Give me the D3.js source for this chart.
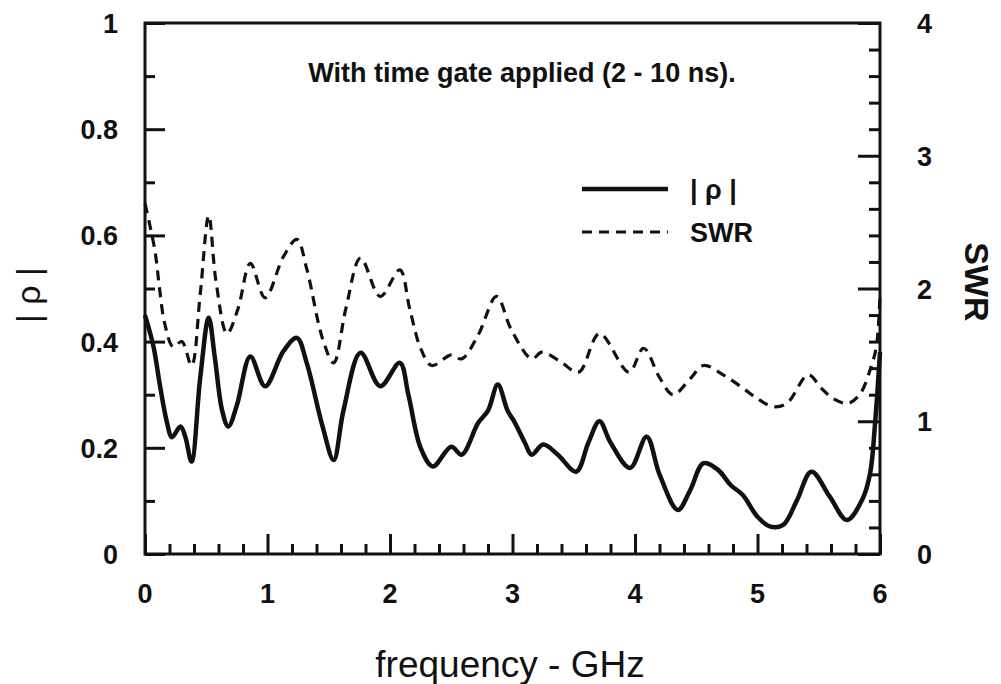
<!DOCTYPE html>
<html>
<head>
<meta charset="utf-8">
<script src="https://cdn.jsdelivr.net/npm/d3@7"></script>
<style>
  html, body { margin: 0; padding: 0; background: #fff; }
  svg text { font-family: "Liberation Sans", Arial, Helvetica, sans-serif; fill: #111; }
</style>
</head>
<body>
<div id="chart"></div>
<script>
// |rho| curve
const rhoFreq = [0.00, 0.07, 0.12, 0.18, 0.22, 0.29, 0.33, 0.38, 0.45, 0.52, 0.57, 0.63, 0.68, 0.75, 0.86, 0.98,
  1.13, 1.24, 1.32, 1.45, 1.54, 1.62, 1.76, 1.92, 2.08, 2.15, 2.25, 2.35, 2.50, 2.585, 2.72, 2.80, 2.88, 2.96,
  3.02, 3.10, 3.157, 3.25, 3.37, 3.52, 3.62, 3.71, 3.80, 3.96, 4.095, 4.20, 4.35, 4.45, 4.56, 4.68, 4.78, 4.88,
  5.00, 5.10, 5.21, 5.32, 5.44, 5.59, 5.73, 5.86, 5.92, 5.96, 6.00];
const rhoValues = [0.45, 0.39, 0.32, 0.247, 0.22, 0.24, 0.22, 0.174, 0.33, 0.445, 0.37, 0.27, 0.24, 0.28, 0.372, 0.316,
  0.382, 0.407, 0.36, 0.24, 0.177, 0.27, 0.379, 0.316, 0.36, 0.30, 0.20, 0.165, 0.202, 0.187, 0.247, 0.27, 0.319, 0.27,
  0.247, 0.21, 0.187, 0.206, 0.187, 0.155, 0.21, 0.25, 0.21, 0.162, 0.221, 0.15, 0.083, 0.12, 0.171, 0.158, 0.13, 0.111,
  0.07, 0.052, 0.055, 0.10, 0.155, 0.108, 0.064, 0.105, 0.153, 0.247, 0.38];

// SWR curve
const swrFreq = [0.00, 0.08, 0.12, 0.16, 0.23, 0.30, 0.38, 0.45, 0.52, 0.58, 0.67, 0.76, 0.86, 0.98, 1.13, 1.24,
  1.32, 1.45, 1.54, 1.64, 1.76, 1.92, 2.08, 2.16, 2.25, 2.34, 2.50, 2.585, 2.72, 2.87, 2.99, 3.157, 3.24, 3.39,
  3.54, 3.71, 3.95, 4.07, 4.20, 4.31, 4.45, 4.56, 4.72, 4.88, 5.00, 5.13, 5.24, 5.415, 5.52, 5.62, 5.74, 5.84,
  5.92, 5.97, 6.00];
const swrValues = [2.64, 2.29, 1.99, 1.74, 1.56, 1.60, 1.42, 1.95, 2.55, 2.05, 1.66, 1.85, 2.19, 1.93, 2.24, 2.37,
  2.15, 1.62, 1.44, 1.85, 2.23, 1.94, 2.14, 1.85, 1.55, 1.42, 1.50, 1.47, 1.65, 1.94, 1.69, 1.47, 1.52, 1.45,
  1.37, 1.66, 1.37, 1.55, 1.33, 1.20, 1.32, 1.42, 1.35, 1.25, 1.17, 1.11, 1.135, 1.35, 1.25, 1.17, 1.135, 1.21,
  1.39, 1.56, 1.95];

const xTicks = [0, 1, 2, 3, 4, 5, 6];
const rhoTicks = [0, 0.2, 0.4, 0.6, 0.8, 1];
const swrTicks = [0, 1, 2, 3, 4];

const width = 1001, height = 684;
const plot = { left: 145, right: 880, top: 23, bottom: 554 };

const svg = d3.select('#chart').append('svg')
  .attr('width', width)
  .attr('height', height);

const x = d3.scaleLinear().domain([0, 6]).range([plot.left, plot.right]);
const yRho = d3.scaleLinear().domain([0, 1]).range([plot.bottom, plot.top]);
const ySwr = d3.scaleLinear().domain([0, 4]).range([plot.bottom, plot.top]);

// curves
const rhoLine = d3.line()
  .x(d => x(d[0]))
  .y(d => yRho(d[1]))
  .curve(d3.curveCatmullRom.alpha(0.5));
const swrLine = d3.line()
  .x(d => x(d[0]))
  .y(d => ySwr(d[1]))
  .curve(d3.curveCatmullRom.alpha(0.5));

svg.append('path')
  .datum(swrFreq.map((f, i) => [f, swrValues[i]]))
  .attr('d', swrLine)
  .attr('fill', 'none')
  .attr('stroke', '#111')
  .attr('stroke-width', 3.2)
  .attr('stroke-dasharray', '10,7');

svg.append('path')
  .datum(rhoFreq.map((f, i) => [f, rhoValues[i]]))
  .attr('d', rhoLine)
  .attr('fill', 'none')
  .attr('stroke', '#111')
  .attr('stroke-width', 4.5)
  .attr('stroke-linejoin', 'round');

// axes: ticks point inward, labels drawn separately
const bottomAxis = svg.append('g')
  .attr('transform', 'translate(0,' + plot.bottom + ')')
  .call(d3.axisTop(x).tickValues(d3.range(0, 6.01, 0.2)).tickSize(10).tickFormat(''));
bottomAxis.selectAll('.tick')
  .filter(d => Math.abs(d - Math.round(d)) < 1e-6)
  .select('line').attr('y2', -20);

const leftAxis = svg.append('g')
  .attr('transform', 'translate(' + plot.left + ',0)')
  .call(d3.axisRight(yRho).tickValues(d3.range(0, 1.001, 0.1)).tickSize(10).tickFormat(''));
leftAxis.selectAll('.tick')
  .filter(d => Math.abs(d * 5 - Math.round(d * 5)) < 1e-6)
  .select('line').attr('x2', 20);

const rightAxis = svg.append('g')
  .attr('transform', 'translate(' + plot.right + ',0)')
  .call(d3.axisLeft(ySwr).tickValues(d3.range(0, 4.001, 0.2)).tickSize(11).tickFormat(''));
rightAxis.selectAll('.tick')
  .filter(d => Math.abs(d - Math.round(d)) < 1e-6)
  .select('line').attr('x2', -22);

svg.selectAll('.domain').remove();
svg.selectAll('.tick line').attr('stroke', '#111').attr('stroke-width', 3);

// frame
svg.append('rect')
  .attr('x', plot.left)
  .attr('y', plot.top)
  .attr('width', plot.right - plot.left)
  .attr('height', plot.bottom - plot.top)
  .attr('fill', 'none')
  .attr('stroke', '#111')
  .attr('stroke-width', 3);

// tick labels
svg.selectAll('.xlabel').data(xTicks).enter().append('text')
  .attr('x', d => x(d))
  .attr('y', 603)
  .attr('text-anchor', 'middle')
  .attr('font-size', 27)
  .attr('font-weight', 'bold')
  .text(d => d);

svg.selectAll('.rholabel').data(rhoTicks).enter().append('text')
  .attr('x', 118)
  .attr('y', d => yRho(d) + 10)
  .attr('text-anchor', 'end')
  .attr('font-size', 27)
  .attr('font-weight', 'bold')
  .text(d => d);

svg.selectAll('.swrlabel').data(swrTicks).enter().append('text')
  .attr('x', 917)
  .attr('y', d => ySwr(d) + 10)
  .attr('text-anchor', 'start')
  .attr('font-size', 27)
  .attr('font-weight', 'bold')
  .text(d => d);

// axis titles
svg.append('text')
  .attr('x', 510)
  .attr('y', 677)
  .attr('text-anchor', 'middle')
  .attr('font-size', 37)
  .text('frequency - GHz');

svg.append('text')
  .attr('transform', 'translate(40,295) rotate(-90)')
  .attr('text-anchor', 'middle')
  .attr('font-size', 34)
  .text('| ρ |');

svg.append('text')
  .attr('transform', 'translate(965,282) rotate(90)')
  .attr('text-anchor', 'middle')
  .attr('font-size', 34)
  .attr('font-weight', 'bold')
  .text('SWR');

// annotation
svg.append('text')
  .attr('x', 522)
  .attr('y', 82)
  .attr('text-anchor', 'middle')
  .attr('font-size', 27)
  .attr('font-weight', 'bold')
  .text('With time gate applied (2 - 10 ns).');

// legend
const legendItems = [
  { label: '| ρ |', dash: null, w: 4.5, y: 189 },
  { label: 'SWR', dash: '10,7', w: 3.2, y: 232 }
];
const legend = svg.selectAll('.legend').data(legendItems).enter().append('g')
  .attr('class', 'legend')
  .attr('transform', d => 'translate(582,' + d.y + ')');
legend.append('line')
  .attr('x1', 0).attr('x2', 86)
  .attr('stroke', '#111')
  .attr('stroke-width', d => d.w)
  .attr('stroke-dasharray', d => d.dash);
legend.append('text')
  .attr('x', 108)
  .attr('y', 10)
  .attr('font-size', 27)
  .attr('font-weight', 'bold')
  .text(d => d.label);
</script>
</body>
</html>
